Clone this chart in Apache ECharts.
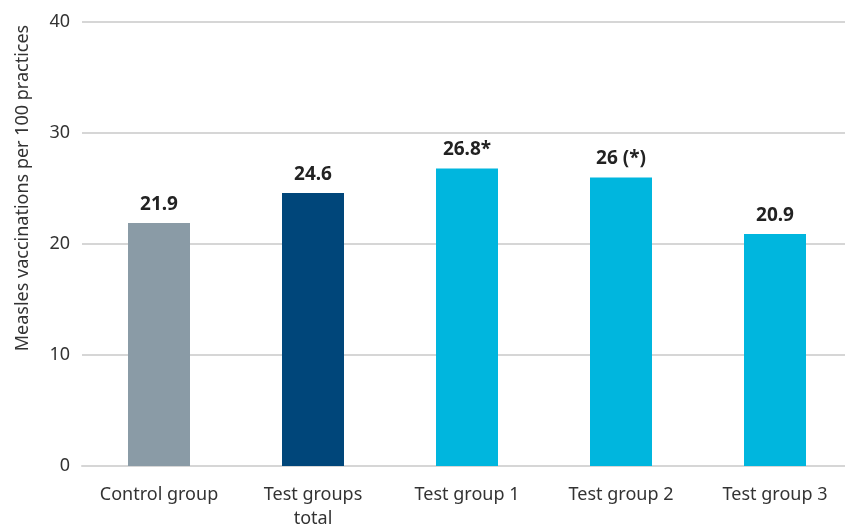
<!DOCTYPE html>
<html>
<head>
<meta charset="utf-8">
<script src="https://cdn.jsdelivr.net/npm/echarts@6/dist/echarts.min.js"></script>
<style>
  html, body { margin: 0; padding: 0; background: #fff; }
  #chart { width: 845px; height: 527px; }
</style>
</head>
<body>
<div id="chart"></div>
<script>
// Measles vaccinations per 100 practices, by group
const categories = ['Control group', 'Test groups\ntotal', 'Test group 1', 'Test group 2', 'Test group 3'];
const values = [21.9, 24.6, 26.8, 26, 20.9];
const valueLabels = ['21.9', '24.6', '26.8*', '26 (*)', '20.9'];
const barColors = ['#8A9BA6', '#00467A', '#00B6DE', '#00B6DE', '#00B6DE'];
const yTicks = [0, 10, 20, 30, 40];

const FONT = '"Noto Sans", sans-serif';

const chart = echarts.init(document.getElementById('chart'));
chart.setOption({
  animation: false,
  grid: {
    left: 82, right: -7, top: 22, bottom: 61,
    containLabel: false,
    outerBoundsMode: 'none'
  },
  xAxis: {
    type: 'category',
    data: categories,
    axisLine: { lineStyle: { color: '#d6d6d6', width: 2 } },
    axisTick: { show: false },
    axisLabel: {
      color: '#333',
      fontFamily: FONT,
      fontSize: 18,
      margin: 17,
      lineHeight: 24,
      interval: 0
    }
  },
  yAxis: {
    type: 'value',
    min: yTicks[0],
    max: yTicks[yTicks.length - 1],
    interval: 10,
    axisLine: { show: false },
    axisTick: { show: false },
    splitLine: { lineStyle: { color: '#d6d6d6', width: 2 } },
    axisLabel: {
      color: '#333',
      fontFamily: FONT,
      fontSize: 18,
      margin: 12
    }
  },
  graphic: [{
    type: 'text',
    x: 23,
    y: 188,
    rotation: Math.PI / 2,
    style: {
      text: 'Measles vaccinations per 100 practices',
      fill: '#333',
      font: '18px ' + FONT,
      textAlign: 'center',
      textVerticalAlign: 'middle'
    }
  }],
  series: [{
    type: 'bar',
    barWidth: 62,
    data: values.map((v, i) => ({ value: v, itemStyle: { color: barColors[i] } })),
    label: {
      show: true,
      position: 'top',
      distance: 9,
      color: '#222',
      fontFamily: FONT,
      fontWeight: 'bold',
      fontSize: 19,
      formatter: p => valueLabels[p.dataIndex]
    }
  }]
});
</script>
</body>
</html>
